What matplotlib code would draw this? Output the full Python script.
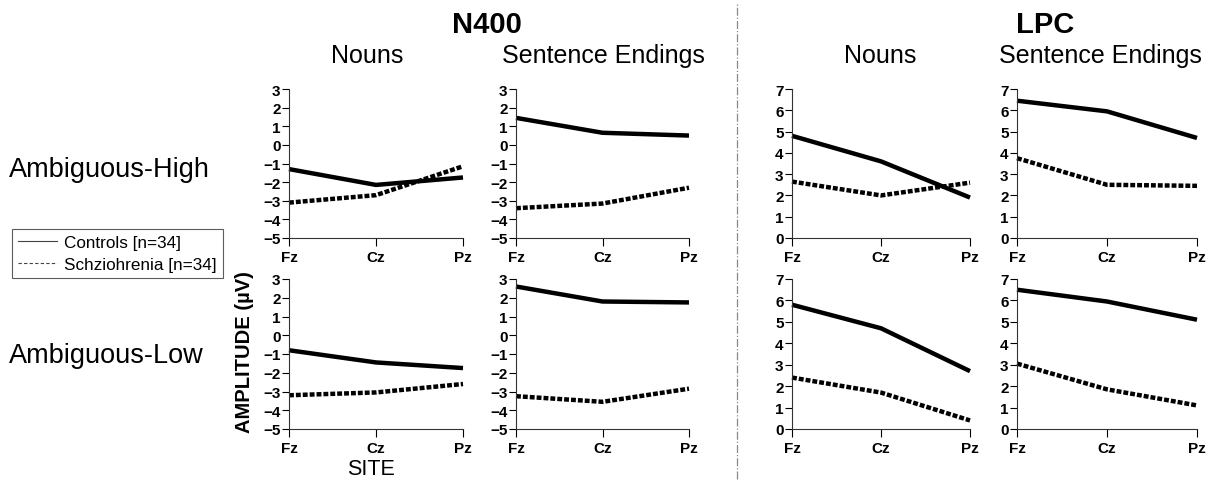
import matplotlib
matplotlib.use('Agg')
from matplotlib import pyplot as plt
from matplotlib.lines import Line2D

plt.rcParams['font.family'] = ['Liberation Sans', 'DejaVu Sans']

sites = ['Fz', 'Cz', 'Pz']

# N400 amplitudes (uV)
n400_nouns_high_ctrl = [-1.3, -2.15, -1.75]
n400_nouns_high_scz = [-3.1, -2.7, -1.15]
n400_sent_high_ctrl = [1.45, 0.65, 0.5]
n400_sent_high_scz = [-3.4, -3.15, -2.3]
n400_nouns_low_ctrl = [-0.8, -1.45, -1.75]
n400_nouns_low_scz = [-3.2, -3.05, -2.6]
n400_sent_low_ctrl = [2.6, 1.8, 1.75]
n400_sent_low_scz = [-3.25, -3.55, -2.85]

# LPC amplitudes (uV)
lpc_nouns_high_ctrl = [4.8, 3.6, 1.9]
lpc_nouns_high_scz = [2.65, 2.0, 2.6]
lpc_sent_high_ctrl = [6.45, 5.95, 4.7]
lpc_sent_high_scz = [3.75, 2.5, 2.45]
lpc_nouns_low_ctrl = [5.8, 4.7, 2.7]
lpc_nouns_low_scz = [2.4, 1.7, 0.4]
lpc_sent_low_ctrl = [6.5, 5.95, 5.1]
lpc_sent_low_scz = [3.05, 1.85, 1.1]

W, H = 1220, 485
fig = plt.figure(figsize=(W / 100, H / 100), dpi=100)

# panel positions in pixels: (left, right) for columns, (top, bottom) for rows
cols = [(289, 463), (516, 689), (792, 970), (1017, 1197)]
rows = [(90, 239), (280, 430)]

panels = [
    (0, 0, n400_nouns_high_ctrl, n400_nouns_high_scz, 'n400'),
    (0, 1, n400_sent_high_ctrl, n400_sent_high_scz, 'n400'),
    (0, 2, lpc_nouns_high_ctrl, lpc_nouns_high_scz, 'lpc'),
    (0, 3, lpc_sent_high_ctrl, lpc_sent_high_scz, 'lpc'),
    (1, 0, n400_nouns_low_ctrl, n400_nouns_low_scz, 'n400'),
    (1, 1, n400_sent_low_ctrl, n400_sent_low_scz, 'n400'),
    (1, 2, lpc_nouns_low_ctrl, lpc_nouns_low_scz, 'lpc'),
    (1, 3, lpc_sent_low_ctrl, lpc_sent_low_scz, 'lpc'),
]

for r, c, ctrl, scz, comp in panels:
    x0, x1 = cols[c]
    y0, y1 = rows[r]
    ax = fig.add_axes([x0 / W, 1 - y1 / H, (x1 - x0) / W, (y1 - y0) / H])
    xs = range(len(sites))
    ax.plot(xs, ctrl, color='black', lw=3.2, solid_capstyle='butt', clip_on=False)
    ax.plot(xs, scz, color='black', lw=3.2, linestyle=(0, (1.1, 0.45)),
            dash_capstyle='butt', clip_on=False)
    ax.set_xlim(0, 2)
    if comp == 'n400':
        ax.set_ylim(-5, 3)
        ax.set_yticks(range(-5, 4))
    else:
        ax.set_ylim(0, 7)
        ax.set_yticks(range(0, 8))
    ax.set_xticks(list(xs))
    ax.set_xticklabels(sites)
    for s in ['top', 'right']:
        ax.spines[s].set_visible(False)
    for s in ['left', 'bottom']:
        ax.spines[s].set_linewidth(0.8)
        ax.spines[s].set_color('#333333')
    ax.tick_params(axis='y', length=5, width=0.8, pad=1, labelsize=11)
    ax.tick_params(axis='x', length=6, width=0.8, pad=3, labelsize=11)
    for lab in ax.get_xticklabels() + ax.get_yticklabels():
        lab.set_fontweight('bold')

# titles
fig.text(487 / W, 1 - 33 / H, 'N400', ha='center', va='baseline', fontsize=21, fontweight='bold')
fig.text(1045 / W, 1 - 33 / H, 'LPC', ha='center', va='baseline', fontsize=21, fontweight='bold')
for xc, t in [(367, 'Nouns'), (603, 'Sentence Endings'), (880, 'Nouns'), (1100, 'Sentence Endings')]:
    fig.text(xc / W, 1 - 63 / H, t, ha='center', va='baseline', fontsize=18)

fig.text(9 / W, 1 - 177 / H, 'Ambiguous-High', ha='left', va='baseline', fontsize=19.5)
fig.text(9 / W, 1 - 363 / H, 'Ambiguous-Low', ha='left', va='baseline', fontsize=19.5)

fig.text(245 / W, 1 - 352 / H, 'AMPLITUDE (µV)', ha='center', va='center',
         rotation=90, fontsize=14.5, fontweight='bold')
fig.text(371 / W, 1 - 475 / H, 'SITE', ha='center', va='baseline', fontsize=15.5)

# separator between N400 and LPC
fig.add_artist(Line2D([737 / W, 737 / W], [0.01, 0.99], transform=fig.transFigure,
                      color='#888888', lw=0.9, linestyle='-.'))

handles = [Line2D([], [], color='#444444', lw=0.8),
           Line2D([], [], color='#444444', lw=0.8, linestyle=(0, (3, 2)))]
leg = fig.legend(handles, ['Controls [n=34]', 'Schziohrenia [n=34]'],
                 loc='upper left', bbox_to_anchor=(12 / W, 1 - 230 / H),
                 fontsize=12.3, frameon=True, fancybox=False, handlelength=2.3,
                 handletextpad=0.4, borderpad=0.35, labelspacing=0.4,
                 borderaxespad=0)
leg.get_frame().set_edgecolor('#333333')
leg.get_frame().set_linewidth(0.8)

fig.savefig('out.png', dpi=100)
